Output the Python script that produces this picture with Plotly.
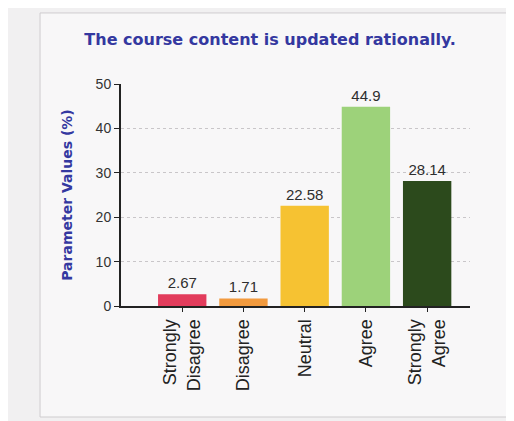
import plotly.graph_objects as go

categories = ["Strongly<br>Disagree", "Disagree", "Neutral", "Agree", "Strongly<br>Agree"]
values = [2.67, 1.71, 22.58, 44.9, 28.14]
value_labels = ["2.67", "1.71", "22.58", "44.9", "28.14"]
bar_colors = ["#e23c5c", "#f29a3e", "#f6c232", "#9dd27a", "#2c4a1c"]
y_ticks = [0, 10, 20, 30, 40, 50]

fig = go.Figure()
fig.add_trace(go.Bar(
    x=categories, y=values, width=0.79,
    marker=dict(color=bar_colors, line=dict(width=0)),
    text=value_labels, textposition="outside", cliponaxis=False,
    textfont=dict(family="Liberation Sans, Arial", size=15, color="#2e2e2e"),
))

fig.add_shape(type="rect", xref="paper", yref="paper",
              x0=-0.232, x1=1.109, y0=-0.50, y1=1.32,
              line=dict(color="#cfcccf", width=1), fillcolor="#f8f7f8", layer="below")

fig.update_layout(
    width=514, height=421,
    margin=dict(l=113, r=52, t=76, b=123),
    paper_bgcolor="#f1f0f1", plot_bgcolor="rgba(0,0,0,0)",
    showlegend=False,
    title=dict(text="<b>The course content is updated rationally.</b>",
               font=dict(family="DejaVu Sans", size=16, color="#3438a0"),
               x=0.51, xref="container", xanchor="center",
               y=0.925, yref="container", yanchor="middle"),
)
fig.update_xaxes(
    type="category", range=[-1, 4.7],
    tickangle=-90, ticks="outside", ticklen=4, tickcolor="#222",
    tickfont=dict(family="Liberation Sans, Arial", size=18, color="#222"),
    showline=True, linecolor="#222", linewidth=2, showgrid=False,
)
fig.update_yaxes(
    range=[0, 50], tickvals=y_ticks,
    ticks="outside", ticklen=5, tickcolor="#222",
    tickfont=dict(family="Liberation Sans, Arial", size=14, color="#333"),
    showline=True, linecolor="#222", linewidth=2,
    showgrid=True, gridcolor="#c9c6c9", griddash="dot", gridwidth=1,
    zeroline=False,
    title=dict(text="<b>Parameter Values (%)</b>", standoff=20,
               font=dict(family="DejaVu Sans", size=14, color="#3438a0")),
)

fig.write_html("out.html")
